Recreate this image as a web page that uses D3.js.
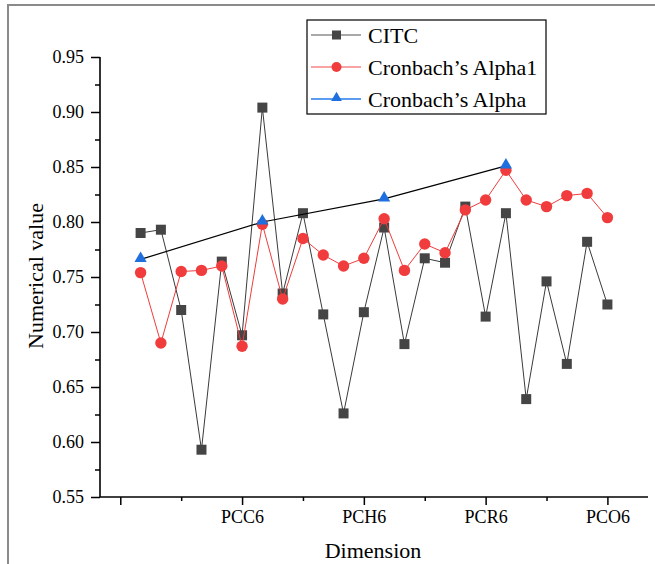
<!DOCTYPE html>
<html>
<head>
<meta charset="utf-8">
<script src="https://cdn.jsdelivr.net/npm/d3@7"></script>
<style>
  body { margin: 0; background: #fff; }
  svg { display: block; }
  svg text { font-family: "Liberation Serif", "Times New Roman", serif; }
</style>
</head>
<body>
<div id="chart"></div>
<script>
// categories: PCC1..PCC6, PCH1..PCH6, PCR1..PCR6, PCO1..PCO6
var groups = ["PCC", "PCH", "PCR", "PCO"];
var categories = [];
groups.forEach(function (g) { for (var i = 1; i <= 6; i++) categories.push(g + i); });

var citc = [0.790, 0.793, 0.720, 0.593, 0.764, 0.697,
            0.904, 0.735, 0.808, 0.716, 0.626, 0.718,
            0.795, 0.689, 0.767, 0.763, 0.814, 0.714,
            0.808, 0.639, 0.746, 0.671, 0.782, 0.725];

var alpha1 = [0.754, 0.690, 0.755, 0.756, 0.760, 0.687,
              0.798, 0.730, 0.785, 0.770, 0.760, 0.767,
              0.803, 0.756, 0.780, 0.772, 0.811, 0.820,
              0.847, 0.820, 0.814, 0.824, 0.826, 0.804];

// Cronbach's Alpha only for the first item of each dimension
var alphaCats = ["PCC1", "PCH1", "PCR1", "PCO1"];
var alpha = [0.766, 0.800, 0.821, 0.851];

var yTicks = [0.55, 0.60, 0.65, 0.70, 0.75, 0.80, 0.85, 0.90, 0.95];
var xTickLabels = ["PCC6", "PCH6", "PCR6", "PCO6"];

var legendNames = ["CITC", "Cronbach\u2019s Alpha1", "Cronbach\u2019s Alpha"];

/////////////////////////////////////

var FONT = "'Liberation Serif', 'Times New Roman', serif";
var width = 655, height = 564;
var margin = { top: 57, right: 7, bottom: 67, left: 100 };

var svg = d3.select("#chart").append("svg")
    .attr("width", width)
    .attr("height", height)
    .attr("font-family", FONT);

// outer frame (gray border)
svg.append("path")
    .attr("d", "M8," + height + " V5 H" + width)
    .attr("fill", "none")
    .attr("stroke", "#8a8a8a")
    .attr("stroke-width", 2);

// index position along the axis, 0 is a blank slot before PCC1
function idx(cat) { return categories.indexOf(cat) + 1; }

var x = d3.scaleLinear().domain([-1, 26]).range([margin.left, width - margin.right]);
var y = d3.scaleLinear().domain([0.55, 0.95]).range([height - margin.bottom, margin.top]);

var g = svg.append("g");

// x axis: major every 6, minor between
var xMajor = d3.axisBottom(x)
    .tickValues([0, 6, 12, 18, 24])
    .tickSize(8)
    .tickPadding(5)
    .tickFormat(function (d) { return xTickLabels.indexOf(categories[d - 1]) < 0 ? "" : categories[d - 1]; });
var xMinor = d3.axisBottom(x).tickValues([3, 9, 15, 21]).tickSize(4).tickFormat("");

var xg = g.append("g").attr("transform", "translate(0," + y(0.55) + ")").call(xMajor);
g.append("g").attr("transform", "translate(0," + y(0.55) + ")").call(xMinor)
    .select(".domain").remove();

// y axis
var yMajor = d3.axisLeft(y).tickValues(yTicks).tickSize(9).tickPadding(7)
    .tickFormat(d3.format(".2f"));
var yMinor = d3.axisLeft(y).tickValues(d3.range(0.575, 0.95, 0.05)).tickSize(5).tickFormat("");

var yg = g.append("g").attr("transform", "translate(" + x(-1) + ",0)").call(yMajor);
g.append("g").attr("transform", "translate(" + x(-1) + ",0)").call(yMinor)
    .select(".domain").remove();

g.selectAll("g").attr("font-family", FONT);
g.selectAll(".domain").attr("stroke", "#000").attr("stroke-width", 1.6);
g.selectAll(".tick line").attr("stroke", "#000").attr("stroke-width", 1.5);
g.selectAll(".tick text").attr("fill", "#000").attr("font-size", 18).attr("font-family", FONT);

// plain axis lines without end caps
xg.select(".domain").attr("d", "M" + x(-1) + ",0H" + x(26));
yg.select(".domain").attr("d", "M0," + y(0.95) + "V" + y(0.55));

// axis titles
svg.append("text")
    .attr("x", 373).attr("y", 558)
    .attr("text-anchor", "middle")
    .attr("font-size", 22)
    .attr("font-family", FONT)
    .text("Dimension");

svg.append("text")
    .attr("transform", "translate(43,276) rotate(-90)")
    .attr("text-anchor", "middle")
    .attr("font-size", 22)
    .attr("font-family", FONT)
    .text("Numerical value");

// series
var citcColor = "#454545", redColor = "#f03c3c", blueColor = "#1f6fde";

var line = d3.line().x(function (d) { return x(d[0]); }).y(function (d) { return y(d[1]); });

var citcPts = citc.map(function (v, i) { return [i + 1, v]; });
var alpha1Pts = alpha1.map(function (v, i) { return [i + 1, v]; });
var alphaPts = alpha.map(function (v, i) { return [idx(alphaCats[i]), v]; });

// CITC
g.append("path").datum(citcPts).attr("d", line)
    .attr("fill", "none").attr("stroke", "#3a3a3a").attr("stroke-width", 1);
g.selectAll(".sq").data(citcPts).enter().append("rect")
    .attr("x", function (d) { return x(d[0]) - 5; })
    .attr("y", function (d) { return y(d[1]) - 5; })
    .attr("width", 10).attr("height", 10)
    .attr("fill", citcColor);

// Cronbach's Alpha1
g.append("path").datum(alpha1Pts).attr("d", line)
    .attr("fill", "none").attr("stroke", redColor).attr("stroke-width", 1);
g.selectAll(".dot").data(alpha1Pts).enter().append("circle")
    .attr("cx", function (d) { return x(d[0]); })
    .attr("cy", function (d) { return y(d[1]); })
    .attr("r", 5.7)
    .attr("fill", redColor);

// Cronbach's Alpha
var tri = d3.symbol().type(d3.symbolTriangle).size(64);
g.append("path").datum(alphaPts).attr("d", line)
    .attr("fill", "none").attr("stroke", "#000").attr("stroke-width", 1.2);
g.selectAll(".tri").data(alphaPts).enter().append("path")
    .attr("d", tri)
    .attr("transform", function (d) { return "translate(" + x(d[0]) + "," + (y(d[1]) - 1) + ")"; })
    .attr("fill", blueColor);

// legend
var legend = svg.append("g").attr("transform", "translate(307,20)");
legend.append("rect")
    .attr("width", 239).attr("height", 94)
    .attr("fill", "#fff").attr("stroke", "#000").attr("stroke-width", 1.2);

var legendLines = ["#555", "#f04848", "#5b9cf0"];
legendNames.forEach(function (name, i) {
    var ly = 15 + i * 32;
    var row = legend.append("g").attr("transform", "translate(0," + ly + ")");
    row.append("line").attr("x1", 4).attr("x2", 54).attr("y1", 0).attr("y2", 0)
        .attr("stroke", legendLines[i]).attr("stroke-width", i === 2 ? 2 : 1);
    if (i === 0) {
        row.append("rect").attr("x", 25).attr("y", -4.5).attr("width", 9).attr("height", 9).attr("fill", citcColor);
    } else if (i === 1) {
        row.append("circle").attr("cx", 29.5).attr("cy", 0).attr("r", 5).attr("fill", redColor);
    } else {
        row.append("path").attr("d", d3.symbol().type(d3.symbolTriangle).size(50))
            .attr("transform", "translate(29.5,-1)").attr("fill", blueColor);
    }
    row.append("text").attr("x", 61).attr("y", 8)
        .attr("font-size", 22)
        .attr("font-family", FONT)
        .text(name);
});
</script>
</body>
</html>
